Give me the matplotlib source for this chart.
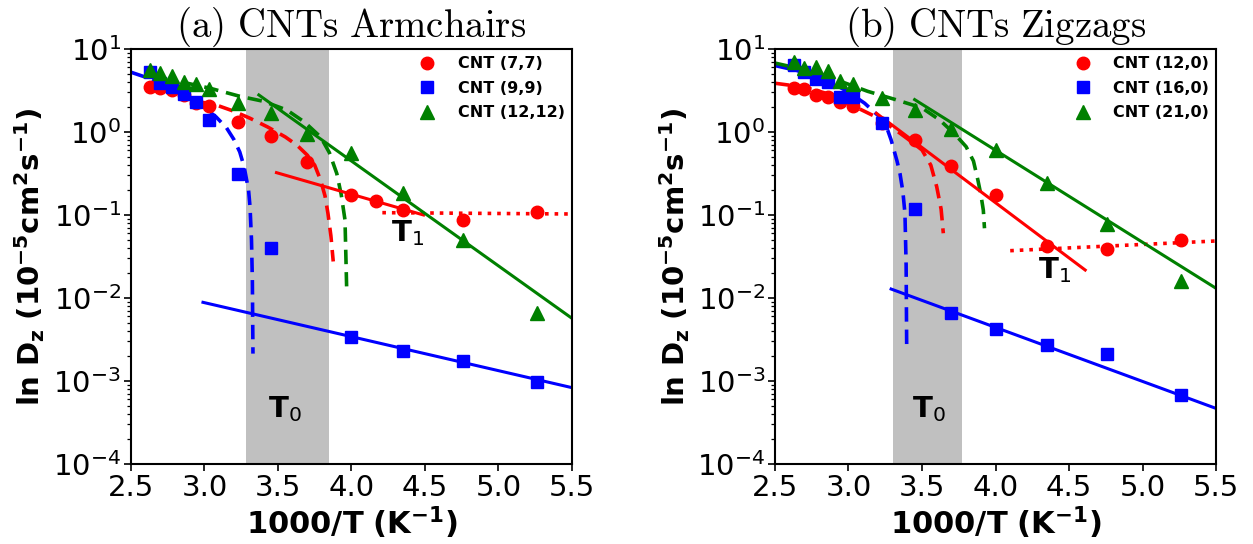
import numpy as np
import matplotlib.pyplot as plt

plt.rcParams['font.family'] = 'DejaVu Sans'
plt.rcParams['axes.linewidth'] = 1.5
plt.rcParams['xtick.major.width'] = 1.2
plt.rcParams['ytick.major.width'] = 1.2
plt.rcParams['ytick.minor.width'] = 0.9

# 1000/T positions of the simulated temperatures
x_arm_red = [2.63, 2.70, 2.78, 2.86, 2.94, 3.03, 3.23, 3.45, 3.70, 4.00, 4.17, 4.35, 4.76, 5.26]
x_arm_blue = [2.63, 2.70, 2.78, 2.86, 2.94, 3.03, 3.23, 3.45, 4.00, 4.35, 4.76, 5.26]
x_arm_green = [2.63, 2.70, 2.78, 2.86, 2.94, 3.03, 3.23, 3.45, 3.70, 4.00, 4.35, 4.76, 5.26]
x_zig = [2.63, 2.70, 2.78, 2.86, 2.94, 3.03, 3.23, 3.45, 3.70, 4.00, 4.35, 4.76, 5.26]

# (a) armchair tubes, D_z in 1e-5 cm^2/s
d_77 = [3.52, 3.36, 3.21, 2.80, 2.22, 2.06, 1.33, 0.90, 0.44, 0.174, 0.148, 0.115, 0.087, 0.109]
d_99 = [5.33, 3.87, 3.52, 2.87, 2.32, 1.40, 0.312, 0.0397, 0.00342, 0.00232, 0.00176, 0.000964]
d_1212 = [5.58, 5.09, 4.73, 4.04, 3.76, 3.27, 2.25, 1.68, 0.95, 0.553, 0.182, 0.050, 0.00655]

# (b) zigzag tubes
d_120 = [3.36, 3.27, 2.79, 2.66, 2.28, 2.06, 1.29, 0.80, 0.39, 0.174, 0.0424, 0.0386, 0.050]
d_160 = [6.41, 5.33, 4.32, 3.97, 2.66, 2.62, 1.27, 0.117, 0.00655, 0.0042, 0.00272, 0.00211, 0.00068]
d_210 = [7.03, 5.85, 6.03, 5.48, 4.15, 3.76, 2.55, 1.84, 1.08, 0.607, 0.245, 0.078, 0.0162]

# fitted curves, (1000/T, log10 D_z)
# (a) non-Arrhenius (dashed) fits
vft_77 = [(2.95, 0.37), (3.08, 0.325), (3.20, 0.25), (3.31, 0.165), (3.43, 0.06), (3.55, -0.06),
          (3.63, -0.16), (3.70, -0.28), (3.75, -0.40), (3.79, -0.58), (3.82, -0.77),
          (3.84, -0.98), (3.86, -1.25), (3.876, -1.56)]
vft_99 = [(2.50, 0.72), (2.60, 0.66), (2.70, 0.59), (2.80, 0.50), (2.90, 0.40), (3.00, 0.29),
          (3.08, 0.18), (3.15, 0.05), (3.20, -0.09), (3.24, -0.24), (3.27, -0.42), (3.30, -0.70),
          (3.31, -0.90), (3.32, -1.30), (3.326, -1.80), (3.33, -2.67)]
vft_1212 = [(2.85, 0.60), (3.04, 0.526), (3.24, 0.43), (3.40, 0.37), (3.56, 0.265), (3.68, 0.12),
            (3.79, -0.06), (3.85, -0.25), (3.90, -0.50), (3.93, -0.75), (3.956, -1.06),
            (3.967, -1.86)]
# (a) Arrhenius (solid) and plateau (dotted) fits
arr_77 = [(3.49, -0.49), (4.49, -1.00)]
flat_77 = [(4.21, -0.972), (5.50, -0.988)]
arr_99 = [(2.99, -2.052), (5.50, -3.08)]
arr_1212 = [(3.37, 0.446), (5.50, -2.245)]

# (b) dashed fits
vft_120 = [(2.50, 0.587), (2.70, 0.54), (2.90, 0.44), (3.09, 0.265), (3.20, 0.17), (3.30, 0.05),
           (3.40, -0.08), (3.50, -0.217), (3.56, -0.40), (3.60, -0.659), (3.63, -0.93),
           (3.645, -1.22)]
vft_160 = [(2.50, 0.80), (2.70, 0.72), (2.90, 0.58), (3.00, 0.48), (3.11, 0.346), (3.20, 0.20),
           (3.25, 0.105), (3.29, -0.096), (3.33, -0.35), (3.35, -0.498), (3.37, -0.72),
           (3.384, -0.98), (3.392, -1.60), (3.396, -2.63)]
vft_210 = [(2.50, 0.83), (2.70, 0.75), (2.90, 0.64), (3.13, 0.49), (3.32, 0.39), (3.50, 0.29),
           (3.62, 0.145), (3.72, -0.02), (3.80, -0.177), (3.85, -0.35), (3.88, -0.578),
           (3.90, -0.75), (3.917, -0.94), (3.925, -1.16)]
# (b) solid and dotted fits
arr_120 = [(3.19, 0.225), (4.61, -1.663)]
flat_120 = [(4.10, -1.43), (5.50, -1.313)]
arr_160 = [(3.29, -1.892), (5.50, -3.33)]
arr_210 = [(3.45, 0.39), (5.50, -1.883)]

# shaded transition windows
band_a = (3.28, 3.85)
band_b = (3.30, 3.77)

ticks_x = [2.5, 3.0, 3.5, 4.0, 4.5, 5.0, 5.5]


def fit(ax, pts, color, ls, lw=2.2):
    px, py = zip(*pts)
    ax.plot(px, np.power(10.0, py), color=color, ls=ls, lw=lw, zorder=2)


def setup(ax, title, band):
    ax.set_yscale('log')
    ax.set_xlim(2.5, 5.5)
    ax.set_ylim(1e-4, 1e1)
    ax.set_xticks(ticks_x)
    ax.axvspan(*band, color='#c0c0c0', zorder=0, lw=0)
    ax.set_title(r'$\mathrm{' + title.replace(' ', r'\ ') + '}$', math_fontfamily='cm',
                 fontsize=28, pad=4)
    ax.set_xlabel(r'$\mathbf{1000/T\ (K^{-1})}$', fontsize=22, labelpad=2)
    ax.set_ylabel(r'$\mathbf{ln\ D_z\ (10^{-5}cm^2s^{-1})}$', fontsize=21, labelpad=4)
    ax.tick_params(axis='both', which='major', labelsize=21, length=5, pad=2)
    ax.tick_params(axis='y', which='minor', length=3)
    ax.text(3.55, 4.6e-4, r'$\mathbf{T}_0$', fontsize=21, ha='center', va='center')


fig = plt.figure(figsize=(12.53, 5.44), dpi=100)
ax1 = fig.add_axes([0.1045, 0.147, 0.352, 0.763])
ax2 = fig.add_axes([0.6185, 0.147, 0.352, 0.763])

# (a) armchairs
setup(ax1, '(a) CNTs Armchairs', band_a)
ax1.plot(x_arm_red, d_77, 'o', color='red', ms=9, ls='none', label='CNT (7,7)', zorder=3)
ax1.plot(x_arm_blue, d_99, 's', color='blue', ms=8, ls='none', label='CNT (9,9)', zorder=3)
ax1.plot(x_arm_green, d_1212, '^', color='green', ms=10, ls='none', label='CNT (12,12)', zorder=3)
fit(ax1, vft_77, 'red', (0, (4, 2.2)), 2.6)
fit(ax1, vft_99, 'blue', (0, (4, 2.2)), 2.6)
fit(ax1, vft_1212, 'green', (0, (4, 2.2)), 2.6)
fit(ax1, arr_77, 'red', '-')
fit(ax1, flat_77, 'red', ':', 2.6)
fit(ax1, arr_99, 'blue', '-')
fit(ax1, arr_1212, 'green', '-')
ax1.text(4.38, 0.0607, r'$\mathbf{T}_1$', fontsize=21, ha='center', va='center')

# (b) zigzags
setup(ax2, '(b) CNTs Zigzags', band_b)
ax2.plot(x_zig, d_120, 'o', color='red', ms=9, ls='none', label='CNT (12,0)', zorder=3)
ax2.plot(x_zig, d_160, 's', color='blue', ms=8, ls='none', label='CNT (16,0)', zorder=3)
ax2.plot(x_zig, d_210, '^', color='green', ms=10, ls='none', label='CNT (21,0)', zorder=3)
fit(ax2, vft_120, 'red', (0, (4, 2.2)), 2.6)
fit(ax2, vft_160, 'blue', (0, (4, 2.2)), 2.6)
fit(ax2, vft_210, 'green', (0, (4, 2.2)), 2.6)
fit(ax2, arr_120, 'red', '-')
fit(ax2, flat_120, 'red', ':', 2.6)
fit(ax2, arr_160, 'blue', '-')
fit(ax2, arr_210, 'green', '-')
ax2.text(4.40, 0.0217, r'$\mathbf{T}_1$', fontsize=21, ha='center', va='center')

for ax in (ax1, ax2):
    ax.legend(loc='upper right', frameon=False, prop={'weight': 'bold', 'size': 11.5},
              handletextpad=1.1, labelspacing=0.6, borderaxespad=0.05, handlelength=1.6)

fig.savefig('out.png', dpi=100)
